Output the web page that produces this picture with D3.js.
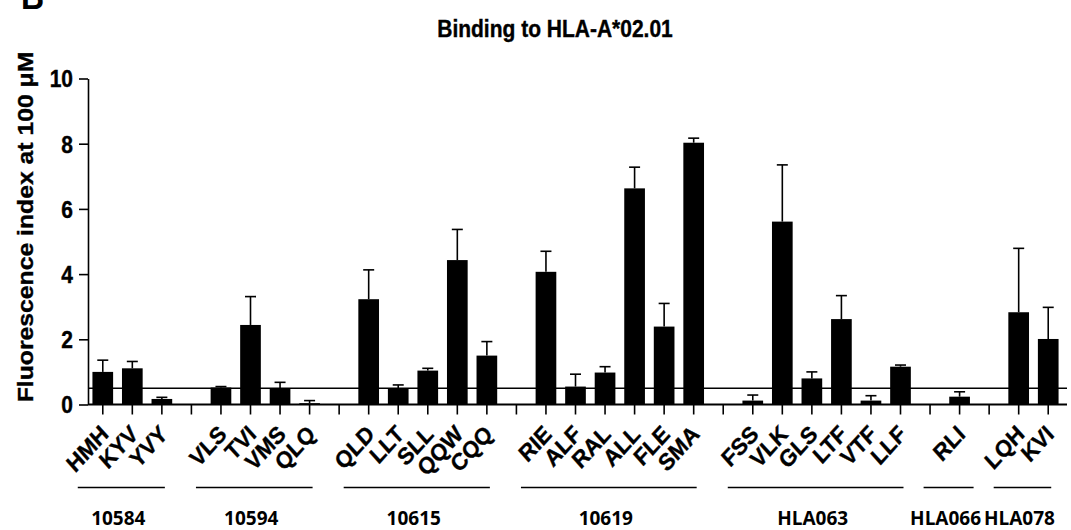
<!DOCTYPE html>
<html><head><meta charset="utf-8">
<script src="https://cdn.jsdelivr.net/npm/d3@7"></script>
<style>
html,body{margin:0;padding:0;background:#fff;}
svg{display:block;}
</style></head>
<body>
<svg id="chart" width="1071" height="530"></svg>
<script>
// ---- data ----
const groupNames = ["10584","10594","10615","10619","HLA063","HLA066","HLA078"];
const peptides   = ["HMH","KYV","YVY","VLS","TVI","VMS","QLQ","QLD","LLT","SLL","QQW","CQQ","RIE","ALF","RAL","ALL","FLE","SMA","FSS","VLK","GLS","LTF","VTF","LLF","RLI","LQH","KVI"];
const peptideGroup = ["10584","10584","10584","10594","10594","10594","10594","10615","10615","10615","10615","10615","10619","10619","10619","10619","10619","10619","HLA063","HLA063","HLA063","HLA063","HLA063","HLA063","HLA066","HLA078","HLA078"];
const meanValues = [1.00,1.11,0.17,0.52,2.44,0.50,0.04,3.23,0.50,1.04,4.43,1.50,4.07,0.55,0.98,6.63,2.39,8.03,0.12,5.61,0.80,2.62,0.12,1.16,0.24,2.83,2.01];
const sdValues   = [0.36,0.21,0.05,0.03,0.87,0.18,0.08,0.90,0.10,0.07,0.94,0.43,0.63,0.38,0.18,0.65,0.71,0.14,0.17,1.74,0.20,0.72,0.15,0.05,0.15,1.96,0.97];
const yTicks = [0,2,4,6,8,10];
const threshold = 0.5;
const titleText = "Binding to HLA-A*02.01";
const yLabelText = "Fluorescence index at 100 \u03BCM";

// ---- build slot list (blank slot between groups) ----
const slots = [];
groupNames.forEach((g, gi) => {
  if (gi > 0) slots.push("__gap" + gi);
  peptides.forEach((p, i) => { if (peptideGroup[i] === g) slots.push(p); });
});

const svg = d3.select("#chart");
const axisX0 = 88, axisX1 = 1067;
const x = d3.scaleBand().domain(slots).range([88, 1063]).padding(0);
const y = d3.scaleLinear().domain([0, 10]).range([404.5, 78.5]);
const cx = d => x(d) + x.bandwidth() / 2;
const barW = x.bandwidth() * 0.7;
const FONT = "'Liberation Sans', Arial, sans-serif";
const STRETCH = 1.1; // vertical stretch seen in the reference's lettering
const heavy = sel => sel.attr("stroke", "#000").attr("stroke-width", 0.35);

// panel letter (mostly cropped, as in the reference)
svg.append("text").attr("transform", `translate(21,9) scale(1,${STRETCH})`)
  .attr("font-family", FONT).attr("font-weight", "bold").attr("font-size", 32).text("B");

// title
svg.append("text").attr("transform", `translate(555,37) scale(1,${STRETCH})`).attr("text-anchor", "middle")
  .attr("font-family", FONT).attr("font-weight", "bold").attr("font-size", 21)
  .text(titleText).call(heavy);

// y axis
const yAxis = svg.append("g").attr("transform", `translate(${axisX0},0)`)
  .call(d3.axisLeft(y).tickValues(yTicks).tickSize(9).tickPadding(5).tickSizeOuter(0));
yAxis.select(".domain").attr("stroke", "#000").attr("stroke-width", 1.6);
yAxis.selectAll(".tick line").attr("stroke", "#000").attr("stroke-width", 1.6);
yAxis.selectAll(".tick text").remove();
yAxis.selectAll(".tick").append("text")
  .attr("transform", `translate(-15,0) scale(1,${STRETCH})`)
  .attr("text-anchor", "end").attr("dy", "0.36em")
  .attr("font-family", FONT).attr("font-weight", "bold")
  .attr("font-size", 21).attr("fill", "#000").text(d => d).call(heavy);

svg.append("text")
  .attr("transform", `translate(33,227) scale(1,${STRETCH}) rotate(-90)`)
  .attr("text-anchor", "middle")
  .attr("font-family", FONT).attr("font-weight", "bold").attr("font-size", 22.5)
  .text(yLabelText).call(heavy);

// bars
const data = peptides.map((p, i) => ({ p, m: meanValues[i], sd: sdValues[i] }));
svg.append("g").selectAll("rect").data(data).join("rect")
  .attr("x", d => cx(d.p) - barW / 2)
  .attr("width", barW)
  .attr("y", d => y(d.m))
  .attr("height", d => y(0) - y(d.m))
  .attr("fill", "#000");

// error bars
const eb = svg.append("g").attr("stroke", "#000").attr("stroke-width", 1.6);
eb.selectAll("line.v").data(data).join("line").attr("class", "v")
  .attr("x1", d => cx(d.p)).attr("x2", d => cx(d.p))
  .attr("y1", d => y(d.m)).attr("y2", d => y(d.m + d.sd));
eb.selectAll("line.c").data(data).join("line").attr("class", "c")
  .attr("x1", d => cx(d.p) - 5.5).attr("x2", d => cx(d.p) + 5.5)
  .attr("y1", d => y(d.m + d.sd)).attr("y2", d => y(d.m + d.sd));

// threshold line
svg.append("line").attr("x1", axisX0).attr("x2", axisX1)
  .attr("y1", y(threshold)).attr("y2", y(threshold))
  .attr("stroke", "#000").attr("stroke-width", 1.6);

// x axis
svg.append("line").attr("x1", axisX0).attr("x2", axisX1)
  .attr("y1", y(0)).attr("y2", y(0)).attr("stroke", "#000").attr("stroke-width", 1.8);
svg.append("g").selectAll("line").data(slots).join("line")
  .attr("x1", d => cx(d)).attr("x2", d => cx(d))
  .attr("y1", y(0)).attr("y2", y(0) + 10)
  .attr("stroke", "#000").attr("stroke-width", 1.6);

// x tick labels
svg.append("g").selectAll("text").data(peptides).join("text")
  .attr("transform", d => `translate(${cx(d) + 7},${y(0) + 31}) scale(1,${STRETCH}) rotate(-45)`)
  .attr("text-anchor", "end")
  .attr("font-family", FONT).attr("font-weight", "bold").attr("font-size", 21.5)
  .text(d => d).call(heavy);

// group lines & labels
const gG = svg.append("g");
groupNames.forEach(g => {
  const members = peptides.filter((p, i) => peptideGroup[i] === g);
  let s = cx(members[0]) - 25, e = cx(members[members.length - 1]) + 3;
  if (e - s < 50) { const c = (s + e) / 2; s = c - 25; e = c + 25; }
  gG.append("line").attr("x1", s).attr("x2", e).attr("y1", 487.5).attr("y2", 487.5)
    .attr("stroke", "#000").attr("stroke-width", 1.6);
  gG.append("text").attr("x", (s + e) / 2 - 3).attr("y", 525).attr("text-anchor", "middle")
    .attr("font-family", "'Open Sans', sans-serif").attr("font-weight", "bold").attr("font-size", 19)
    .text(g);
});
</script>
</body></html>
